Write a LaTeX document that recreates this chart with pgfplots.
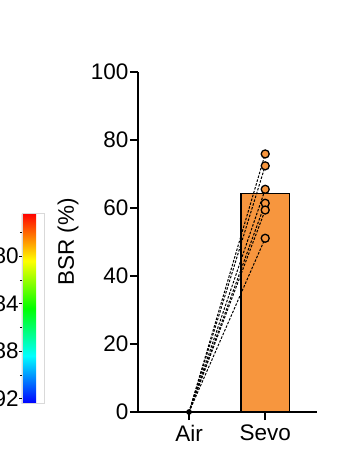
\documentclass[border=0pt]{standalone}
\usepackage{pgfplots}
\pgfplotsset{compat=1.18}
\usepackage{fontspec}
\setmainfont{Liberation Sans}
\definecolor{barorange}{RGB}{247,150,62}
\newcommand{\bigf}{\fontsize{22.5}{26}\selectfont}
\begin{document}
\begin{tikzpicture}
\useasboundingbox (0,0) rectangle (363pt,456pt);
\clip (0,0) rectangle (363pt,456pt);
% colorbar host
\begin{axis}[at={(13.3pt,52.7pt)}, anchor=south west, scale only axis,
  width=22.4pt, height=190pt, hide axis, xmin=0, xmax=1, ymin=0, ymax=1,
  colormap={hsvrev}{rgb255=(255,0,0) rgb255=(255,255,0) rgb255=(0,255,0) rgb255=(0,255,255) rgb255=(0,0,255)},
  point meta min=76.4, point meta max=92.4,
  colorbar,
  colorbar style={at={(parent axis.south west)}, anchor=south west,
    scale only axis, width=22.4pt, height=190pt,
    y dir=reverse, ytick={80,84,88,92}, minor ytick={78,82,86,90},
    yticklabel pos=left, ytick pos=left, tick align=outside,
    major tick length=3pt, minor tick length=2pt,
    tick style={black, line width=0.6pt},
    axis line style={draw=gray!30, line width=0.5pt},
    /pgf/number format/assume math mode=true,
    yticklabel style={font=\bigf, inner sep=0pt, anchor=east},
  }]
\addplot[draw=none] coordinates {(0,0)};
\end{axis}
% main axis
\begin{axis}[at={(138pt,44pt)}, anchor=south west, scale only axis,
  width=179pt, height=340pt,
  xmin=-0.67, xmax=1.68, ymin=0, ymax=100,
  axis lines*=left, clip=false,
  xtick={0,1}, xticklabels={Air,Sevo},
  ytick={0,20,40,60,80,100},
  tick align=outside, major tick length=8pt,
  tick style={black, line width=1.6pt},
  axis line style={black, line width=1.6pt},
  /pgf/number format/assume math mode=true,
  ticklabel style={font=\bigf},
  yticklabel style={inner sep=1.5pt},
  xticklabel style={inner sep=1pt, yshift=-4pt},
]
\addplot[ybar, bar width=48.6pt, fill=barorange, draw=black, line width=1.5pt] coordinates {(1,64.3)};
\addplot[black, line width=1pt, dash pattern=on 2.5pt off 1.5pt] coordinates {(0,0) (1,75.9)};
\addplot[black, line width=1pt, dash pattern=on 2.5pt off 1.5pt] coordinates {(0,0) (1,72.4)};
\addplot[black, line width=1pt, dash pattern=on 2.5pt off 1.5pt] coordinates {(0,0) (1,65.5)};
\addplot[black, line width=1pt, dash pattern=on 2.5pt off 1.5pt] coordinates {(0,0) (1,61.4)};
\addplot[black, line width=1pt, dash pattern=on 2.5pt off 1.5pt] coordinates {(0,0) (1,59.4)};
\addplot[black, line width=1pt, dash pattern=on 2.5pt off 1.5pt] coordinates {(0,0) (1,51.1)};
\addplot[only marks, mark=*, mark size=4pt, mark options={fill=barorange, draw=black, line width=1.3pt}] coordinates {(1,75.9) (1,72.4) (1,65.5) (1,61.4) (1,59.4) (1,51.1)};
\addplot[only marks, mark=*, mark size=2.6pt, black] coordinates {(0,0)};
\end{axis}
\node[rotate=90, anchor=base, font=\bigf, inner sep=0pt] at (74pt,214pt) {BSR (\%)};
\end{tikzpicture}
\end{document}
